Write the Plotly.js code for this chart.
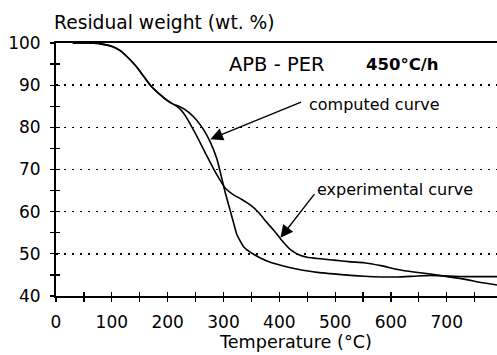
<!DOCTYPE html>
<html>
<head>
<meta charset="utf-8">
<script src="https://cdn.plot.ly/plotly-3.0.1.min.js"></script>
<style>html,body{margin:0;padding:0;background:#fff;}#chart{width:497px;height:355px;}</style>
</head>
<body>
<div id="chart"></div>
<script>
// ---- data ----
const computedT = [30, 60, 80, 102, 115, 127, 140, 151, 169, 187, 200, 210, 220, 230, 240, 252, 264, 276, 288, 297, 303, 312, 318, 324, 336, 354, 378, 420, 468, 528, 552, 612, 641, 671, 731, 791];
const computedW = [100, 100, 99.8, 99.1, 98.2, 96.8, 95, 93.2, 90, 87.7, 86.3, 85.5, 85, 84.3, 83.3, 81.7, 79.5, 76.6, 72.6, 67.9, 64.6, 60.3, 57.4, 54.6, 51.7, 49.9, 48.3, 46.7, 45.6, 44.9, 44.7, 44.5, 44.7, 44.9, 44.6, 44.6];
const experimentalT = [30, 60, 80, 102, 115, 127, 140, 151, 169, 187, 200, 210, 220, 229, 237, 247, 255, 265, 273, 282, 292, 303, 318, 333, 348, 363, 378, 390, 402, 420, 435, 450, 498, 528, 552, 582, 612, 641, 671, 701, 731, 761, 791];
const experimentalW = [100, 100, 99.8, 99.1, 98.2, 96.8, 95, 93.2, 90, 87.7, 86.3, 85.5, 84.6, 83.3, 81.6, 79.2, 77.2, 74.6, 72.5, 70.2, 67.9, 65.6, 64, 62.9, 61.6, 59.8, 57.4, 55.6, 53.6, 51, 49.8, 49.2, 48.5, 48.1, 47.9, 47.2, 46.3, 45.7, 45.2, 44.6, 44, 43.2, 42.6];
const xTickVals = [0, 100, 200, 300, 400, 500, 600, 700];
const xTickText = ["0", "100", "200", "300", "400", "500", "600", "700"];
const yTickVals = [40, 50, 60, 70, 80, 90, 100];
const yTickText = ["40", "50", "60", "70", "80", "90", "100"];
const yTitle = "Residual weight (wt. %)";
const xTitle = "Temperature (°C)";
const sampleLabel = "APB - PER";
const rateLabel = "450°C/h";
const computedLabel = "computed curve";
const experimentalLabel = "experimental curve";
// arrow tips / tails in data units
const computedArrow = {tipT: 276.5, tipW: 77.2, tailT: 441.7, tailW: 86.1};
const experimentalArrow = {tipT: 402, tipW: 53.8, tailT: 465, tailW: 64.5};

// ---- layout helpers ----
const L = 56, R = 497, T = 43, B = 296;
const px = v => (v - L) / (R - L);
const py = v => (B - v) / (B - T);
const FONT = "DejaVu Sans, Arial, sans-serif";

const lineStyle = {color: "#000", width: 1.6, shape: "spline", smoothing: 0.5};
const traces = [
  {x: computedT, y: computedW, type: "scatter", mode: "lines", line: lineStyle, hoverinfo: "skip", name: computedLabel},
  {x: experimentalT, y: experimentalW, type: "scatter", mode: "lines", line: lineStyle, hoverinfo: "skip", name: experimentalLabel},
  {x: [], y: [], xaxis: "x2", yaxis: "y2", type: "scatter", mode: "lines", hoverinfo: "skip"}
];

const xRange = [0, 790], yRange = [40, 100];
const layout = {
  width: 497, height: 355,
  margin: {l: L, r: 497 - R, t: T, b: 355 - B, pad: 0},
  paper_bgcolor: "#fff", plot_bgcolor: "#fff",
  showlegend: false,
  font: {family: FONT, color: "#000", size: 17},
  xaxis: {
    range: xRange, autorange: false, tickmode: "array", tickvals: xTickVals, ticktext: xTickText,
    ticks: "outside", ticklen: 4, tickwidth: 1.2, tickcolor: "#000",
    minor: {dtick: 50, tick0: 0, ticks: "outside", ticklen: 4, tickwidth: 1.2, tickcolor: "#000", showgrid: false},
    showline: true, linecolor: "#000", linewidth: 2, mirror: true,
    showgrid: false, zeroline: false, tickfont: {size: 17, family: FONT}, ticklabelstandoff: 6
  },
  yaxis: {
    range: yRange, autorange: false, tickmode: "array", tickvals: yTickVals, ticktext: yTickText,
    ticks: "outside", ticklen: 4, tickwidth: 1.2, tickcolor: "#000",
    minor: {dtick: 5, tick0: 0, ticks: "outside", ticklen: 4, tickwidth: 1.2, tickcolor: "#000", showgrid: false},
    showline: true, linecolor: "#000", linewidth: 2,
    showgrid: true, gridcolor: "#000", gridwidth: 1.4, griddash: "2px,6px",
    zeroline: false, tickfont: {size: 17, family: FONT}, ticklabelstandoff: 6
  },
  xaxis2: {
    overlaying: "x", anchor: "y2", range: xRange, autorange: false, tickmode: "array", tickvals: xTickVals,
    ticks: "inside", ticklen: 4, tickwidth: 1.2, tickcolor: "#000",
    minor: {dtick: 50, tick0: 0, ticks: "inside", ticklen: 4, tickwidth: 1.2, tickcolor: "#000", showgrid: false},
    showticklabels: false, showgrid: false, zeroline: false, showline: false, side: "bottom"
  },
  yaxis2: {
    overlaying: "y", anchor: "x2", range: yRange, autorange: false, tickmode: "array", tickvals: yTickVals,
    ticks: "inside", ticklen: 4, tickwidth: 1.2, tickcolor: "#000",
    minor: {dtick: 5, tick0: 0, ticks: "inside", ticklen: 4, tickwidth: 1.2, tickcolor: "#000", showgrid: false},
    showticklabels: false, showgrid: false, zeroline: false, showline: false, side: "left"
  },
  annotations: [
    {text: yTitle, xref: "paper", yref: "paper", x: px(52), y: py(22.5), xanchor: "left", yanchor: "middle", showarrow: false, font: {size: 18.7, family: FONT}},
    {text: xTitle, xref: "paper", yref: "paper", x: px(217), y: py(342), xanchor: "left", yanchor: "middle", showarrow: false, font: {size: 17.6, family: FONT}},
    {text: sampleLabel, xref: "paper", yref: "paper", x: px(227), y: py(64.5), xanchor: "left", yanchor: "middle", showarrow: false, font: {size: 19.5, family: FONT}},
    {text: "<b>" + rateLabel + "</b>", xref: "paper", yref: "paper", x: px(364), y: py(64.5), xanchor: "left", yanchor: "middle", showarrow: false, font: {size: 16.5, family: FONT}},
    {text: computedLabel, xref: "paper", yref: "paper", x: px(307), y: py(104), xanchor: "left", yanchor: "middle", showarrow: false, font: {size: 16, family: FONT}},
    {text: experimentalLabel, xref: "paper", yref: "paper", x: px(315), y: py(189), xanchor: "left", yanchor: "middle", showarrow: false, font: {size: 16, family: FONT}},
    {text: "", x: computedArrow.tipT, y: computedArrow.tipW, ax: computedArrow.tailT, ay: computedArrow.tailW,
     xref: "x", yref: "y", axref: "x", ayref: "y", showarrow: true, arrowhead: 2, arrowsize: 1.8, arrowwidth: 1.4, arrowcolor: "#000"},
    {text: "", x: experimentalArrow.tipT, y: experimentalArrow.tipW, ax: experimentalArrow.tailT, ay: experimentalArrow.tailW,
     xref: "x", yref: "y", axref: "x", ayref: "y", showarrow: true, arrowhead: 2, arrowsize: 1.8, arrowwidth: 1.4, arrowcolor: "#000"}
  ]
};

Plotly.newPlot("chart", traces, layout, {staticPlot: true, displayModeBar: false});
</script>
</body>
</html>
